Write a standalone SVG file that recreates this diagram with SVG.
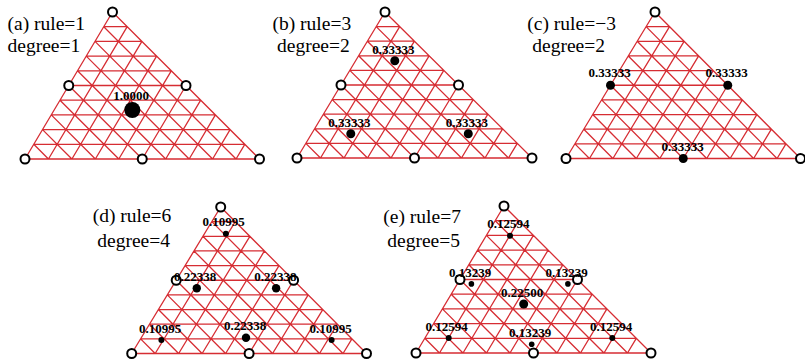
<svg xmlns="http://www.w3.org/2000/svg" xmlns:xlink="http://www.w3.org/1999/xlink" width="805" height="359" viewBox="0 0 805 359">
<style>
.grid{fill:none;stroke:#d62d33;stroke-width:1.3}
.oc{fill:#fff;stroke:#000;stroke-width:2}
.dot{fill:#000}
.title{font-family:"Liberation Serif","Times New Roman",serif;font-size:19.5px;fill:#000}
.lbl{font-family:"Liberation Serif","Times New Roman",serif;font-size:13px;font-weight:bold;fill:#000;text-anchor:middle}
</style>
<defs>
<path id="grid" vector-effect="non-scaling-stroke" d="M0 0H10M0 1H9M0 2H8M0 3H7M0 4H6M0 5H5M0 6H4M0 7H3M0 8H2M0 9H1M0 0V10M1 0V9M2 0V8M3 0V7M4 0V6M5 0V5M6 0V4M7 0V3M8 0V2M9 0V1M1 0L0 1M2 0L0 2M3 0L0 3M4 0L0 4M5 0L0 5M6 0L0 6M7 0L0 7M8 0L0 8M9 0L0 9M10 0L0 10"/>
</defs>
<rect width="805" height="359" fill="#fff"/>

<g id="panel-a">
<text class="title" x="7.5" y="29.5">(a) rule=1</text>
<text class="title" x="7.5" y="52">degree=1</text>
<use class="grid" xlink:href="#grid" href="#grid" transform="matrix(23.45 0 8.75 -14.7 25 159)"/>
<circle class="oc" cx="112.5" cy="12" r="4.5"/>
<circle class="oc" cx="25" cy="159" r="4.5"/>
<circle class="oc" cx="259.5" cy="159" r="4.5"/>
<circle class="oc" cx="68.75" cy="85.5" r="4.5"/>
<circle class="oc" cx="186" cy="85.5" r="4.5"/>
<circle class="oc" cx="142.25" cy="159" r="4.5"/>
<circle class="dot" cx="132.3" cy="110" r="8"/>
<text class="lbl" x="131" y="99.5">1.0000</text>
</g>

<g id="panel-b">
<text class="title" x="272.5" y="29.5">(b) rule=3</text>
<text class="title" x="277" y="52">degree=2</text>
<use class="grid" xlink:href="#grid" href="#grid" transform="matrix(23.5 0 8.8 -14.6 297 158)"/>
<circle class="oc" cx="385" cy="12" r="4.5"/>
<circle class="oc" cx="297" cy="158" r="4.5"/>
<circle class="oc" cx="532" cy="158" r="4.5"/>
<circle class="oc" cx="341" cy="85" r="4.5"/>
<circle class="oc" cx="458.5" cy="85" r="4.5"/>
<circle class="oc" cx="414.5" cy="158" r="4.5"/>
<circle class="dot" cx="394.8" cy="60.7" r="4.5"/>
<circle class="dot" cx="350.8" cy="133.7" r="4.5"/>
<circle class="dot" cx="468.3" cy="133.7" r="4.5"/>
<text class="lbl" x="393.3" y="53.7">0.33333</text>
<text class="lbl" x="349.3" y="126.7">0.33333</text>
<text class="lbl" x="466.8" y="126.7">0.33333</text>
</g>

<g id="panel-c">
<text class="title" x="527.3" y="30">(c) rule=−3</text>
<text class="title" x="532.3" y="51.7">degree=2</text>
<use class="grid" xlink:href="#grid" href="#grid" transform="matrix(23.45 0 8.9 -14.65 566 158.5)"/>
<circle class="oc" cx="655" cy="12" r="4.5"/>
<circle class="oc" cx="566" cy="158.5" r="4.5"/>
<circle class="oc" cx="800.5" cy="158.5" r="4.5"/>
<circle class="dot" cx="610.5" cy="85.25" r="4.5"/>
<circle class="dot" cx="727.75" cy="85.25" r="4.5"/>
<circle class="dot" cx="683.25" cy="158.5" r="4.5"/>
<text class="lbl" x="609.5" y="77">0.33333</text>
<text class="lbl" x="726.5" y="77">0.33333</text>
<text class="lbl" x="682.5" y="151">0.33333</text>
</g>

<g id="panel-d">
<text class="title" x="92.7" y="222.3">(d) rule=6</text>
<text class="title" x="97.3" y="246.7">degree=4</text>
<use class="grid" xlink:href="#grid" href="#grid" transform="matrix(23.48 0 8.9 -14.65 131.7 353.5)"/>
<circle class="oc" cx="220.7" cy="207" r="4.5"/>
<circle class="oc" cx="131.7" cy="353.5" r="4.5"/>
<circle class="oc" cx="366.5" cy="353.5" r="4.5"/>
<circle class="oc" cx="176.2" cy="280.25" r="4.5"/>
<circle class="oc" cx="293.6" cy="280.25" r="4.5"/>
<circle class="oc" cx="249.1" cy="353.5" r="4.5"/>
<circle class="dot" cx="225.9" cy="233.8" r="3"/>
<circle class="dot" cx="161.4" cy="340.1" r="3"/>
<circle class="dot" cx="331.6" cy="340.1" r="3"/>
<circle class="dot" cx="196.8" cy="288.2" r="4.2"/>
<circle class="dot" cx="276.1" cy="288.2" r="4.2"/>
<circle class="dot" cx="246" cy="337.7" r="4.2"/>
<text class="lbl" x="223.5" y="225.5">0.10995</text>
<text class="lbl" x="195" y="281">0.22338</text>
<text class="lbl" x="275.3" y="281">0.22338</text>
<text class="lbl" x="160" y="333.3">0.10995</text>
<text class="lbl" x="245" y="330">0.22338</text>
<text class="lbl" x="330.7" y="333.3">0.10995</text>
</g>

<g id="panel-e">
<text class="title" x="383.3" y="223">(e) rule=7</text>
<text class="title" x="387.3" y="246.7">degree=5</text>
<use class="grid" xlink:href="#grid" href="#grid" transform="matrix(23.5 0 8.8 -14.7 416 353)"/>
<circle class="oc" cx="504" cy="206" r="4.5"/>
<circle class="oc" cx="416" cy="353" r="4.5"/>
<circle class="oc" cx="651" cy="353" r="4.5"/>
<circle class="oc" cx="460" cy="279.5" r="4.5"/>
<circle class="oc" cx="577.5" cy="279.5" r="4.5"/>
<circle class="oc" cx="533.5" cy="353" r="4.5"/>
<circle class="dot" cx="523.7" cy="304" r="4.5"/>
<circle class="dot" cx="510" cy="235.8" r="3"/>
<circle class="dot" cx="448.7" cy="338.1" r="3"/>
<circle class="dot" cx="612.3" cy="338.1" r="3"/>
<circle class="dot" cx="471.4" cy="283.9" r="2.8"/>
<circle class="dot" cx="567.9" cy="283.9" r="2.8"/>
<circle class="dot" cx="531.7" cy="344.2" r="2.8"/>
<text class="lbl" x="508.3" y="228.3">0.12594</text>
<text class="lbl" x="470" y="276.7">0.13239</text>
<text class="lbl" x="566.5" y="276.7">0.13239</text>
<text class="lbl" x="522" y="297">0.22500</text>
<text class="lbl" x="446.7" y="330.5">0.12594</text>
<text class="lbl" x="611" y="330.5">0.12594</text>
<text class="lbl" x="530" y="337">0.13239</text>
</g>
</svg>
